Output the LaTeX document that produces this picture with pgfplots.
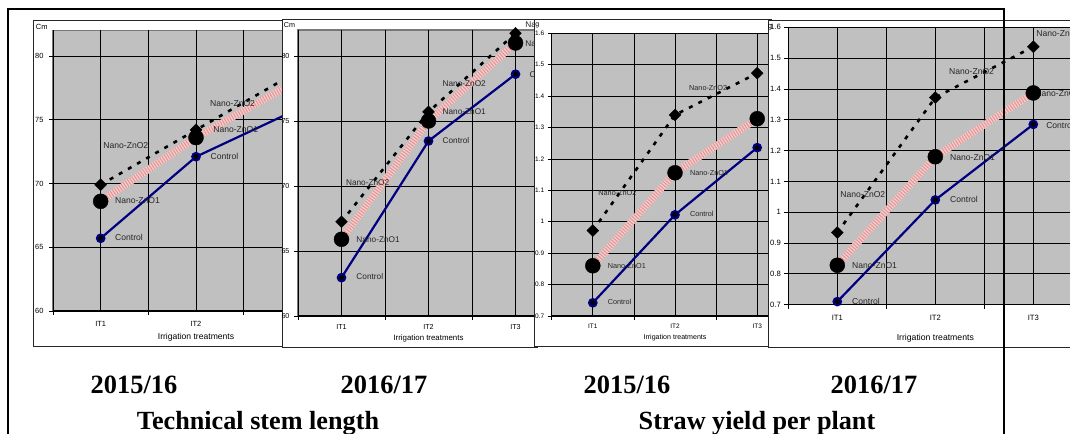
\documentclass[border=0pt]{standalone}
\usepackage{pgfplots}
\pgfplotsset{compat=1.18}
\usepackage{pgfplotstable}
\usepackage{fontspec}
\setmainfont{Liberation Sans}
\newfontfamily\capfont{Liberation Serif}
\definecolor{plotgray}{RGB}{192,192,192}
\definecolor{navy}{RGB}{0,0,128}
\definecolor{pinkA}{RGB}{246,206,206}
\definecolor{pinkB}{RGB}{224,152,152}
\definecolor{bordergray}{RGB}{120,120,120}
\newcommand{\fs}[1]{\fontsize{#1}{#1}\selectfont}

\pgfplotstableread{
x c z1 z2
1 65.7 68.6 69.9
2 72.1 73.6 74.2
3 75.6 77.8 78.5
}\tA
\pgfplotstableread{
x c z1 z2
1 62.95 65.9 67.25
2 73.46 75.0 75.7
3 78.6 81.0 81.75
}\tB
\pgfplotstableread{
x c z1 z2
1 0.742 0.860 0.972
2 1.022 1.156 1.340
3 1.236 1.328 1.473
}\tC
\pgfplotstableread{
x c z1 z2
1 0.710 0.828 0.934
2 1.040 1.180 1.372
3 1.285 1.387 1.537
}\tD

\tikzset{lbl/.style={anchor=west, inner sep=0pt, text=black!85}}
\pgfplotsset{
 base/.style={
  scale only axis, clip=false,
  xmin=0.5, xmax=3.5,
  axis x line*=bottom, axis y line*=left,
  axis line style={black, line width=1bp},
  axis background/.style={fill=plotgray, draw=bordergray, line width=1.3bp},
  xtick={0.5,1.5,2.5,3.5}, xticklabels={},
  extra x ticks={1,2,3}, extra x tick labels={IT1,IT2,IT3},
  extra x tick style={grid=major, major tick length=0pt},
  grid=major,
  major grid style={black, line width=0.75bp},
  tick align=outside, major tick length=4bp,
  tick style={black, line width=0.75bp},
  /pgf/number format/assume math mode=true,
  xlabel={Irrigation treatments},
 },
}
\newcommand{\panelplots}[1]{%
  \addplot[pinkA, line width=7bp, no markers, line join=round] table[x=x,y=z1]{#1};
  \addplot[pinkB, line width=7bp, no markers, dash pattern=on 1.1bp off 1.5bp] table[x=x,y=z1]{#1};
  \addplot[black, line width=2.6bp, no markers, dash pattern=on 4bp off 6.5bp] table[x=x,y=z2]{#1};
  \addplot[navy, line width=2.2bp, no markers] table[x=x,y=c]{#1};
  \addplot[only marks, mark=square*, mark size=4.2bp, mark options={rotate=45, fill=black, draw=black}] table[x=x,y=z2]{#1};
  \addplot[only marks, mark=*, mark size=7.5bp, mark options={fill=black, draw=black}] table[x=x,y=z1]{#1};
  \addplot[only marks, mark=*, mark size=3.8bp, mark options={fill=black, draw=navy, line width=2bp}] table[x=x,y=c]{#1};
}

\begin{document}
\begin{tikzpicture}[x=1bp,y=1bp]
\useasboundingbox (0,0) rectangle (1070,434);
\clip (0,0) rectangle (1070,434);

% ---------- Panel 1 ----------
\draw[fill=white, draw=black!85, line width=0.9bp] (33,87.3) rectangle (285,413.5);
\begin{axis}[base, at={(53bp,123bp)}, anchor=south west, width=286bp, height=280.5bp,
  ymin=60, ymax=82, ytick={60,65,70,75,80},
  yticklabel style={font=\fs{7.5}, xshift=-2bp},
  xticklabel style={font=\fs{7.5}, anchor=center, yshift=-13bp},
  xlabel style={font=\fs{8.6}, at={(axis description cs:0.5,0)}, anchor=center, yshift=-26bp}]
  \panelplots{\tA}
  \node[lbl, font=\fs{8.6}] at (axis cs:1.027,72.95) {Nano-ZnO2};
  \node[lbl, font=\fs{8.6}] at (axis cs:2.147,76.3) {Nano-ZnO2};
  \node[lbl, font=\fs{8.6}] at (axis cs:1.15,68.66) {Nano-ZnO1};
  \node[lbl, font=\fs{8.6}] at (axis cs:2.18,74.26) {Nano-ZnO1};
  \node[lbl, font=\fs{8.6}] at (axis cs:1.15,65.73) {Control};
  \node[lbl, font=\fs{8.6}] at (axis cs:2.151,72.1) {Control};
\end{axis}
\node[font=\fs{7.5}] at (41.8,406.7) {Cm};

% ---------- Panel 2 ----------
\draw[fill=white, draw=black!85, line width=0.9bp] (282.3,87) rectangle (537,414.5);
\begin{axis}[base, at={(298bp,118bp)}, anchor=south west, width=261bp, height=286bp,
  ymin=60, ymax=82, ytick={60,65,70,75,80},
  yticklabel style={font=\fs{7.2}, xshift=-1bp},
  xticklabel style={font=\fs{7.2}, anchor=center, yshift=-10.7bp},
  xlabel style={font=\fs{7.9}, at={(axis description cs:0.5,0)}, anchor=center, yshift=-22bp}]
  \panelplots{\tB}
  \node[lbl, font=\fs{8.3}] at (axis cs:1.05,70.25) {Nano-ZnO2};
  \node[lbl, font=\fs{8.3}] at (axis cs:2.16,77.85) {Nano-ZnO2};
  \node[lbl, font=\fs{8.3}] at (axis cs:3.11,82.4) {Nano-ZnO2};
  \node[lbl, font=\fs{8.3}] at (axis cs:1.17,65.9) {Nano-ZnO1};
  \node[lbl, font=\fs{8.3}] at (axis cs:2.16,75.75) {Nano-ZnO1};
  \node[lbl, font=\fs{8.3}] at (axis cs:3.11,80.97) {Nano-ZnO1};
  \node[lbl, font=\fs{8.3}] at (axis cs:1.17,63.0) {Control};
  \node[lbl, font=\fs{8.3}] at (axis cs:2.16,73.5) {Control};
  \node[lbl, font=\fs{8.3}] at (axis cs:3.16,78.6) {Control};
\end{axis}
\node[font=\fs{7.2}] at (289.5,409) {Cm};

% ---------- Panel 3 ----------
\draw[fill=white, draw=black!85, line width=0.9bp] (534.3,88) rectangle (771,414.5);
\begin{axis}[base, at={(551.7bp,118bp)}, anchor=south west, width=246.6bp, height=282.7bp,
  ymin=0.7, ymax=1.6, ytick={0.7,0.8,0.9,1,1.1,1.2,1.3,1.4,1.5,1.6},
  yticklabel style={font=\fs{6.5}},
  xticklabel style={font=\fs{6.5}, anchor=center, yshift=-10.7bp},
  xlabel style={font=\fs{7.1}, at={(axis description cs:0.5,0)}, anchor=center, yshift=-22bp}]
  \panelplots{\tC}
  \node[lbl, font=\fs{7.3}] at (axis cs:1.066,1.093) {Nano-ZnO2};
  \node[lbl, font=\fs{7.3}] at (axis cs:2.17,1.427) {Nano-ZnO2};
  \node[lbl, font=\fs{7.3}] at (axis cs:3.2,1.517) {Nano-ZnO2};
  \node[lbl, font=\fs{7.3}] at (axis cs:1.18,0.86) {Nano-ZnO1};
  \node[lbl, font=\fs{7.3}] at (axis cs:2.18,1.156) {Nano-ZnO1};
  \node[lbl, font=\fs{7.3}] at (axis cs:3.2,1.33) {Nano-ZnO1};
  \node[lbl, font=\fs{7.3}] at (axis cs:1.18,0.745) {Control};
  \node[lbl, font=\fs{7.3}] at (axis cs:2.18,1.024) {Control};
  \node[lbl, font=\fs{7.3}] at (axis cs:3.2,1.236) {Control};
\end{axis}
\node[font=\fs{7}] at (537.3,408.3) {g};

% ---------- Panel 4 ----------
\draw[fill=white, draw=black!85, line width=0.9bp] (768.3,87) rectangle (1100,414);
\begin{axis}[base, at={(788.3bp,129.3bp)}, anchor=south west, width=294bp, height=277.4bp,
  ymin=0.7, ymax=1.6, ytick={0.7,0.8,0.9,1,1.1,1.2,1.3,1.4,1.5,1.6},
  yticklabel style={font=\fs{7.7}},
  xticklabel style={font=\fs{7.7}, anchor=center, yshift=-13.3bp},
  xlabel style={font=\fs{8.7}, at={(axis description cs:0.5,0)}, anchor=center, yshift=-33.3bp}]
  \panelplots{\tD}
  \node[lbl, font=\fs{8.6}] at (axis cs:1.03,1.058) {Nano-ZnO2};
  \node[lbl, font=\fs{8.6}] at (axis cs:2.14,1.456) {Nano-ZnO2};
  \node[lbl, font=\fs{8.6}] at (axis cs:3.03,1.581) {Nano-ZnO2};
  \node[lbl, font=\fs{8.6}] at (axis cs:1.15,0.827) {Nano-ZnO1};
  \node[lbl, font=\fs{8.6}] at (axis cs:2.15,1.179) {Nano-ZnO1};
  \node[lbl, font=\fs{8.6}] at (axis cs:3.02,1.384) {Nano-ZnO1};
  \node[lbl, font=\fs{8.6}] at (axis cs:1.15,0.712) {Control};
  \node[lbl, font=\fs{8.6}] at (axis cs:2.15,1.04) {Control};
  \node[lbl, font=\fs{8.6}] at (axis cs:3.13,1.283) {Control};
\end{axis}
\node[font=\fs{7.7}] at (770,406.7) {g};

% ---------- captions ----------
\node[font=\capfont\bfseries\fs{26.5}, anchor=base, inner sep=0pt] at (134,40.7) {2015/16};
\node[font=\capfont\bfseries\fs{26.5}, anchor=base, inner sep=0pt] at (384,40.7) {2016/17};
\node[font=\capfont\bfseries\fs{26.5}, anchor=base, inner sep=0pt] at (627,40.7) {2015/16};
\node[font=\capfont\bfseries\fs{26.5}, anchor=base, inner sep=0pt] at (874,40.7) {2016/17};
\node[font=\capfont\bfseries\fs{26.3}, anchor=base, inner sep=0pt] at (258,4.8) {Technical stem length};
\node[font=\capfont\bfseries\fs{26.3}, anchor=base, inner sep=0pt] at (757,4.8) {Straw yield per plant};

% ---------- outer frame ----------
\draw[black, line width=2.2bp] (7.7,-20) rectangle (1003.7,425.3);
\end{tikzpicture}
\end{document}
